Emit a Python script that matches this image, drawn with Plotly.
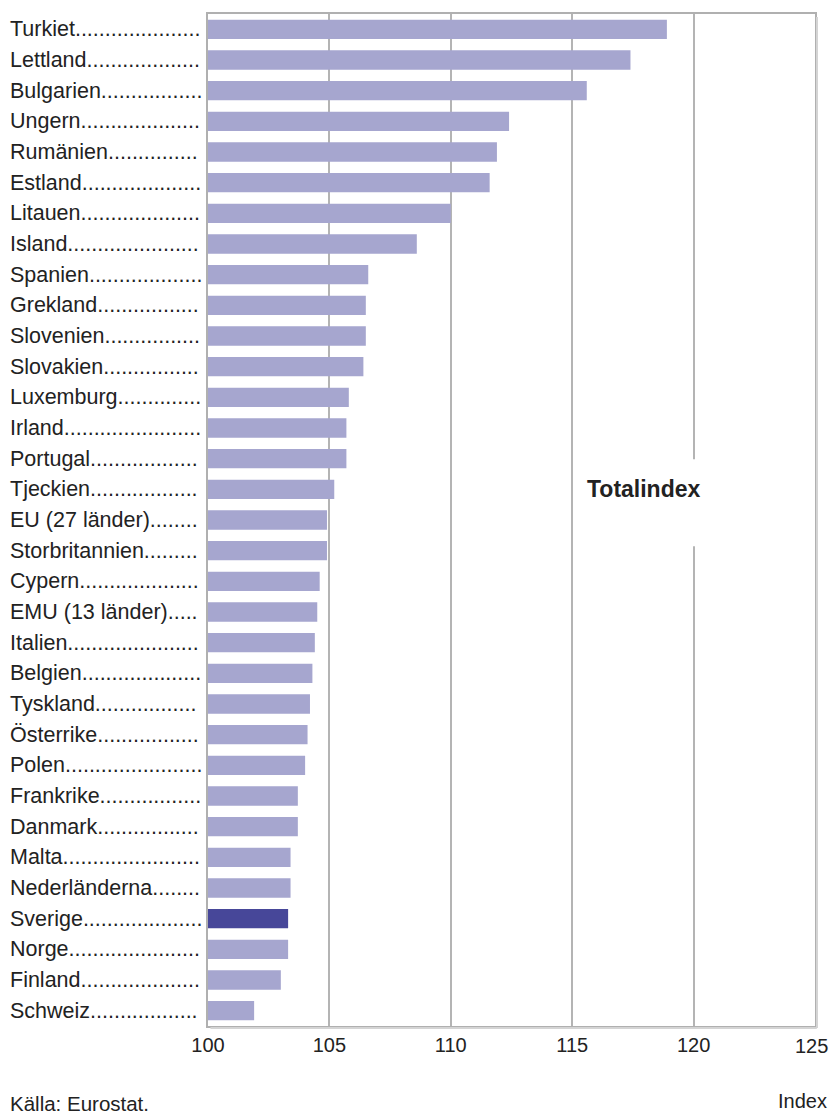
import plotly.graph_objects as go

# countries from top to bottom and their index values
countries = ["Turkiet", "Lettland", "Bulgarien", "Ungern", "Rumänien", "Estland",
             "Litauen", "Island", "Spanien", "Grekland", "Slovenien", "Slovakien",
             "Luxemburg", "Irland", "Portugal", "Tjeckien", "EU (27 länder)",
             "Storbritannien", "Cypern", "EMU (13 länder)", "Italien", "Belgien",
             "Tyskland", "Österrike", "Polen", "Frankrike", "Danmark", "Malta",
             "Nederländerna", "Sverige", "Norge", "Finland", "Schweiz"]
values = [118.9, 117.4, 115.6, 112.4, 111.9, 111.6,
          110.0, 108.6, 106.6, 106.5, 106.5, 106.4,
          105.8, 105.7, 105.7, 105.2, 104.9,
          104.9, 104.6, 104.5, 104.4, 104.3,
          104.2, 104.1, 104.0, 103.7, 103.7, 103.4,
          103.4, 103.3, 103.3, 103.0, 101.9]
highlight = "Sverige"
x_ticks = [100, 105, 110, 115, 120, 125]

LABEL_SIZE = 21.5

# rough Arial advance widths (per 1000 em) to size the dot leaders
widths = {"a": 556, "b": 556, "c": 500, "d": 556, "e": 556, "f": 278, "g": 556,
          "h": 556, "i": 222, "j": 222, "k": 500, "l": 222, "m": 833, "n": 556,
          "o": 556, "p": 556, "r": 333, "s": 500, "t": 278, "u": 556, "v": 500,
          "w": 722, "x": 500, "y": 500, "z": 500, "ä": 556, "ö": 556,
          "B": 667, "C": 722, "D": 722, "E": 667, "F": 611, "G": 778, "I": 278,
          "L": 556, "M": 833, "N": 722, "P": 667, "R": 722, "S": 667, "T": 611,
          "U": 722, "Ö": 778, " ": 278, "(": 333, ")": 333, ".": 278}


def leader(name, end_px=203, start_px=10):
    w = sum(widths.get(ch, 556) for ch in name) * LABEL_SIZE / 1000
    dot = 278 * LABEL_SIZE / 1000
    n = int((end_px - start_px - w) / dot)
    return name + "." * max(n, 2)


bar_colors = ["#474799" if c == highlight else "#a6a6cf" for c in countries]

fig = go.Figure(go.Bar(
    x=[v - 100 for v in values],
    y=countries,
    base=100,
    orientation="h",
    marker=dict(color=bar_colors, line=dict(width=0)),
    hoverinfo="x+y",
))

for c in countries:
    fig.add_annotation(xref="paper", x=0, xshift=-200, y=c, yref="y",
                       text=leader(c), showarrow=False, xanchor="left",
                       font=dict(size=LABEL_SIZE, color="#222222"))

# break in the 120 gridline behind the label
fig.add_shape(type="rect", xref="x", yref="paper", x0=119.7, x1=120.3,
              y0=0.474, y1=0.560, fillcolor="white", line=dict(width=0),
              layer="above")
fig.add_annotation(x=117.97, y="Tjeckien", text="<b>Totalindex</b>",
                   showarrow=False, font=dict(size=23, color="#222222"))

# faint drop shadow on the right and bottom of the frame
fig.add_shape(type="rect", xref="paper", yref="paper", xsizemode="pixel",
              xanchor=1, x0=1, x1=3, y0=-0.002, y1=0.997,
              fillcolor="#d4d4d4", line=dict(width=0), layer="above")
fig.add_shape(type="rect", xref="paper", yref="paper", ysizemode="pixel",
              yanchor=0, y0=-3, y1=-1, x0=0.004, x1=1.003,
              fillcolor="#d4d4d4", line=dict(width=0), layer="above")

# last tick label as an annotation, nudged in so the window edge does not cut it
fig.add_annotation(x=x_ticks[-1], xref="x", y=0, yref="paper", yanchor="top",
                   yshift=-7, xshift=-4, text=str(x_ticks[-1]), showarrow=False,
                   font=dict(size=20, color="#222222"))

fig.add_annotation(xref="paper", yref="paper", x=0, xshift=-200, y=0,
                   yshift=-77, text="Källa: Eurostat.", showarrow=False,
                   xanchor="left", yanchor="middle",
                   font=dict(size=20.5, color="#222222"))
fig.add_annotation(xref="paper", yref="paper", x=1, xshift=14, y=0,
                   yshift=-75, text="Index", showarrow=False,
                   xanchor="right", yanchor="middle",
                   font=dict(size=20, color="#222222"))

# page body has an 8px margin, so the figure is 8px smaller than the window
fig.update_layout(
    width=829, height=1110,
    margin=dict(l=200, r=22, t=4, b=92),
    plot_bgcolor="white", paper_bgcolor="white",
    font=dict(family="Liberation Sans, Arial, sans-serif", size=20, color="#222222"),
    bargap=0.37,
    showlegend=False,
)
fig.update_xaxes(range=[100, 125], tickvals=x_ticks[:-1],
                 showgrid=True, gridcolor="#b4b4b4", gridwidth=2,
                 showline=True, mirror=True, linecolor="#b0b0b0", linewidth=2,
                 ticks="", zeroline=False,
                 tickfont=dict(size=20, color="#222222"))
fig.update_yaxes(autorange="reversed", showticklabels=False, ticks="",
                 showgrid=False, showline=True, mirror=True,
                 linecolor="#b0b0b0", linewidth=2)

fig.write_html("out.html")
